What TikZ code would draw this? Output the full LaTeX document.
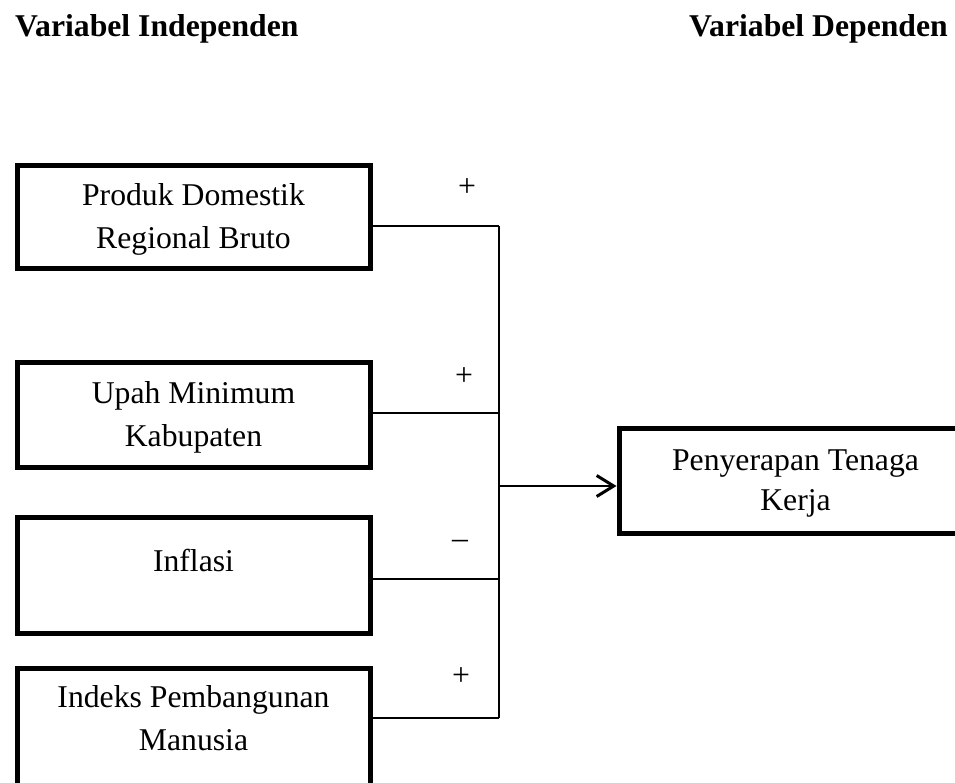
\documentclass[tikz,border=0pt]{standalone}
\usepackage{fontspec}
\setmainfont{Liberation Serif}
\usetikzlibrary{arrows.meta}
\begin{document}
\begin{tikzpicture}[x=1pt,y=-1pt,
  varbox/.style={draw,line width=5pt,minimum width=353pt,inner sep=0pt,align=center,
    font=\fontsize{31.7}{43}\selectfont,text height=63pt,text depth=0pt},
  conn/.style={line width=1.8pt},
  sign/.style={anchor=base,inner sep=0pt,font=\fontsize{31.7}{38}\selectfont},
  head/.style={inner sep=0pt,font=\fontsize{31.7}{38}\selectfont\bfseries}]
\useasboundingbox (0,0) rectangle (955,783);
\clip (0,0) rectangle (955,783);
% headings
\node[head,anchor=base west] (hi) at (15,37) {Variabel Independen};
\node[head,anchor=base east] (hd) at (948,37) {Variabel Dependen};
% boxes
\node[varbox,minimum height=103pt] (b1) at (193.5,217.5) {Produk Domestik\\Regional Bruto};
\node[varbox,minimum height=105pt] (b2) at (193.5,414.5) {Upah Minimum\\Kabupaten};
\node[varbox,minimum height=116pt,text height=20pt,text depth=28pt] (b3) at (193.5,575) {Inflasi};
\node[varbox,minimum height=150pt,text depth=49pt] (b4) at (193.5,743) {Indeks Pembangunan\\Manusia};
\node[varbox,minimum height=105pt,font=\fontsize{31.7}{40}\selectfont,text height=61pt,text depth=2pt] (out) at (795.5,480.5) {Penyerapan Tenaga\\Kerja};
% junctions
\coordinate (j1) at (499,226);
\coordinate (j2) at (499,413);
\coordinate (j3) at (499,579);
\coordinate (j4) at (499,718);
\coordinate (jm) at (499,486);
% connectors
\draw[conn] (b1.east |- j1) -- (j1);
\draw[conn] (b2.east |- j2) -- (j2);
\draw[conn] (b3.east |- j3) -- (j3);
\draw[conn] (b4.east |- j4) -- (j4);
\draw[conn] (j1) -- (j4);
\draw[conn,-{Straight Barb[length=17pt,width=21pt,line width=3pt]}] (jm) -- (out.west |- jm);
% signs
\node[sign] (s1) at (467,197) {+};
\node[sign] (s2) at (464,385) {+};
\node[sign] (s3) at (460,548) {–};
\node[sign] (s4) at (461,685) {+};
\end{tikzpicture}
\end{document}
